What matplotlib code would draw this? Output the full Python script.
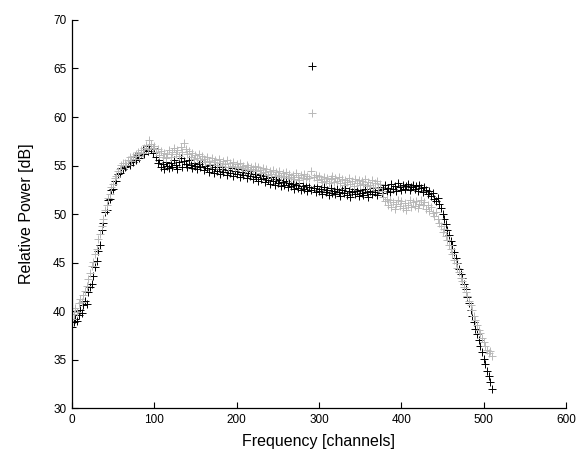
import numpy as np
import matplotlib
matplotlib.use("Agg")
import matplotlib.pyplot as plt

plt.rcParams['font.family'] = ['Liberation Sans', 'DejaVu Sans']

# channel index (every second channel)
channels = list(range(0, 512, 2))

# black series (first measurement) [dB]
power_black = [
    38.4, 38.9, 39.2, 39.0, 39.6, 40.1, 39.8, 40.6, 41.0, 40.7, 42.0, 42.5, 42.8, 43.6, 44.5, 45.2,
    46.2, 46.8, 48.4, 49.1, 50.2, 50.4, 51.4, 51.6, 52.5, 52.6, 53.4, 53.4, 54.1, 54.2, 54.7, 54.6,
    54.8, 55.0, 55.3, 55.1, 55.6, 55.4, 55.9, 55.6, 56.1, 55.8, 56.3, 56.6, 56.2, 56.8, 56.5, 57.0,
    56.7, 56.3, 56.8, 55.9, 55.3, 55.6, 54.8, 55.2, 54.6, 55.4, 55.0, 54.7, 55.3, 54.9, 55.6, 55.1,
    54.6, 55.4, 55.8, 54.9, 55.5, 55.2, 54.8, 55.6, 55.1, 54.7, 55.3, 55.0, 54.6, 55.2, 54.9, 55.4,
    54.5, 55.0, 54.7, 54.3, 55.1, 54.6, 54.2, 54.9, 54.4, 54.8, 54.1, 54.6, 54.3, 54.9, 54.0, 54.5,
    54.2, 54.7, 53.9, 54.4, 54.1, 54.6, 53.8, 54.3, 54.0, 54.5, 53.7, 54.2, 53.9, 54.4, 53.6, 54.1,
    53.8, 53.4, 54.0, 53.6, 53.9, 53.3, 53.7, 53.5, 53.1, 53.8, 53.4, 53.0, 53.6, 53.2, 53.5, 52.9,
    53.3, 53.0, 53.4, 52.8, 53.2, 52.9, 53.1, 52.6, 53.0, 52.7, 53.2, 52.5, 52.9, 52.6, 53.0, 52.4,
    52.8, 52.5, 65.3, 52.7, 52.3, 52.9, 52.4, 52.6, 52.1, 52.8, 52.3, 52.5, 52.0, 52.7, 52.2, 52.4,
    52.1, 52.6, 52.3, 51.9, 52.5, 52.2, 52.7, 52.0, 52.4, 51.8, 52.3, 52.6, 52.1, 52.4, 51.9, 52.5,
    52.2, 52.0, 52.6, 52.3, 51.8, 52.4, 52.1, 52.7, 52.3, 52.0, 52.5, 52.8, 52.2, 52.6, 53.0, 52.4,
    52.7, 52.3, 53.1, 52.6, 52.9, 52.4, 53.2, 52.8, 52.5, 53.0, 52.6, 52.9, 53.1, 52.5, 52.8, 53.0,
    52.6, 52.9, 52.4, 53.0, 52.7, 52.3, 52.8, 52.5, 52.1, 52.4, 51.9, 52.2, 51.6, 51.3, 51.7, 51.0,
    50.6, 50.0, 49.5, 49.0, 48.4, 47.8, 47.2, 46.8, 46.1, 45.5, 45.0, 44.3, 43.8, 43.4, 42.8, 42.3,
    41.5, 40.8, 40.1, 39.5, 38.9, 38.2, 37.6, 37.0, 36.4, 35.8, 35.1, 34.5, 33.8, 33.3, 32.7, 32.0,
]

# gray series (second measurement) [dB]
power_gray = [
    39.2, 39.7, 40.3, 39.9, 40.8, 41.2, 40.9, 41.7, 42.1, 42.6, 43.3, 43.9, 44.6, 45.1, 45.9, 46.4,
    47.4, 47.9, 48.8, 49.5, 50.4, 50.9, 51.7, 52.1, 52.8, 53.1, 53.7, 53.9, 54.4, 54.6, 55.1, 55.3,
    55.3, 55.1, 55.6, 55.9, 55.5, 56.0, 55.7, 56.2, 56.4, 56.0, 56.6, 56.3, 56.8, 57.1, 56.7, 57.6,
    57.2, 56.8, 57.0, 56.4, 56.7, 56.1, 56.5, 55.9, 56.3, 55.8, 56.2, 56.6, 55.9, 56.4, 56.8, 56.2,
    56.6, 56.0, 56.9, 56.4, 57.3, 56.7, 56.2, 56.5, 55.9, 56.3, 55.7, 56.1, 55.8, 56.2, 55.6, 56.0,
    55.7, 55.4, 55.9, 55.5, 55.2, 55.8, 55.4, 55.6, 55.1, 55.7, 55.3, 55.0, 55.5, 55.2, 55.6, 54.9,
    55.3, 55.0, 55.4, 54.8, 55.2, 54.9, 55.3, 54.7, 55.0, 54.6, 55.1, 54.8, 54.5, 54.9, 54.6, 55.0,
    54.4, 54.8, 54.5, 54.2, 54.7, 54.3, 54.6, 54.0, 54.4, 54.1, 54.5, 53.9, 54.3, 54.0, 54.4, 53.8,
    54.2, 53.9, 54.3, 53.7, 54.1, 53.8, 54.0, 53.6, 54.2, 53.8, 53.5, 54.0, 53.7, 54.1, 53.6, 53.9,
    53.7, 54.4, 60.4, 53.8, 54.0, 53.5, 53.9, 53.6, 53.3, 53.8, 53.4, 53.7, 53.2, 53.6, 53.9, 53.3,
    53.7, 53.4, 53.8, 53.2, 53.6, 53.0, 53.5, 53.3, 53.7, 53.1, 53.4, 52.9, 53.6, 53.2, 53.5, 53.0,
    53.4, 53.1, 53.6, 52.9, 53.3, 53.0, 53.5, 52.8, 53.2, 53.4, 52.7, 53.1, 52.4, 51.8, 51.3, 51.6,
    50.9, 51.4, 50.7, 51.2, 50.5, 51.0, 51.5, 50.8, 51.3, 50.6, 51.1, 50.4, 50.9, 51.4, 50.7, 51.2,
    50.8, 51.3, 50.6, 51.0, 51.5, 50.9, 51.2, 50.5, 50.9, 50.3, 50.7, 50.1, 49.8, 50.2, 49.5, 49.1,
    48.8, 48.2, 48.5, 47.7, 47.3, 46.8, 46.4, 45.9, 45.3, 45.0, 44.4, 44.0, 43.4, 43.1, 42.5, 42.0,
    41.6, 41.0, 40.6, 40.1, 39.5, 39.1, 38.6, 38.1, 37.7, 37.2, 36.8, 36.4, 36.0, 35.7, 35.9, 35.4,
]

x_ticks = [0, 100, 200, 300, 400, 500, 600]
y_ticks = [30, 35, 40, 45, 50, 55, 60, 65, 70]

fig = plt.figure(figsize=(5.8, 4.54), dpi=100)
ax = fig.add_axes([0.124, 0.101, 0.852, 0.855])

ax.plot(channels, power_black, linestyle='none', marker='+', color='black',
        markersize=5.5, markeredgewidth=0.7)
ax.plot(channels, power_gray, linestyle='none', marker='+', color='#b8b8b8',
        markersize=5.5, markeredgewidth=0.7)

ax.set_xlim(0, 600)
ax.set_ylim(30, 70)
ax.set_xticks(x_ticks)
ax.set_yticks(y_ticks)
ax.spines['top'].set_visible(False)
ax.spines['right'].set_visible(False)
ax.spines['left'].set_linewidth(0.9)
ax.spines['bottom'].set_linewidth(0.9)
ax.tick_params(direction='in', length=4, width=0.8, labelsize=8.5, pad=4)

ax.set_xlabel('Frequency [channels]', fontsize=11.5, labelpad=6)
ax.set_ylabel('Relative Power [dB]', fontsize=11.5, labelpad=14)

fig.savefig('out.png', dpi=100)
